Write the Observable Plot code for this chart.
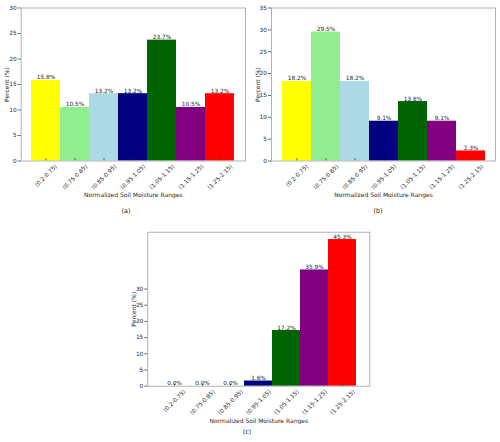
<!DOCTYPE html>
<html>
<head>
<meta charset="utf-8">
<script src="https://cdn.jsdelivr.net/npm/d3@7"></script>
<script src="https://cdn.jsdelivr.net/npm/@observablehq/plot@0.6"></script>
<style>
  html, body { margin: 0; padding: 0; background: #fff; }
  #fig { position: relative; width: 500px; height: 442px; background: #fff; font-family: "DejaVu Sans", sans-serif; color: #262626; }
  .panel { position: absolute; opacity: 0.999; }
  .caption { position: absolute; font-size: 6.5px; transform: translate(-50%, -50%); white-space: nowrap; opacity: 0.999; }
</style>
</head>
<body>
<div id="fig"></div>
<script>
// Soil moisture range classes shared by all three panels
const categories = ["(0.2-0.75)", "(0.75-0.85)", "(0.85-0.95)", "(0.95-1.05)", "(1.05-1.15)", "(1.15-1.25)", "(1.25-2.15)"];
const barColors = ["yellow", "lightgreen", "lightblue", "navy", "darkgreen", "purple", "red"];

// Percent of samples falling in each range
const percentA = [15.8, 10.5, 13.2, 13.2, 23.7, 10.5, 13.2];
const percentB = [18.2, 29.5, 18.2, 9.1, 13.6, 9.1, 2.3];
const percentC = [0.0, 0.0, 0.0, 1.6, 17.2, 35.9, 45.3];

// Y-axis tick values and upper limits
const ticksA = [0, 5, 10, 15, 20, 25, 30];
const ticksB = [0, 5, 10, 15, 20, 25, 30, 35];
const ticksC = [0, 5, 10, 15, 20, 25, 30];
const yMaxA = 30;
const yMaxB = 35;
const yMaxC = 45.3 * 1.05;

const xTitle = "Normalized Soil Moisture Ranges";
const yTitle = "Percent (%)";

const tickFont = 5.8;
const titleFont = 6;
const FONT = "DejaVu Sans";
const INK = "#262626";

// measure a string so rotated tick labels can hang from the axis like centered boxes
const ctx = document.createElement("canvas").getContext("2d");
function textWidth(s, size) {
  ctx.font = `${size}px "${FONT}"`;
  return ctx.measureText(s).width;
}

function panel({values, yMax, ticks, width, height, margins, titleDy}) {
  const [mt, mr, mb, ml] = margins;
  const innerH = height - mt - mb;
  const data = categories.map((cat, i) => ({cat, v: values[i]}));
  // each rotated label is centred under its tick, its box top just below the axis
  const tickLabels = categories.map(cat => {
    const w = textWidth(cat, tickFont);
    const half = (w + tickFont) * Math.SQRT1_2 / 2;
    return Plot.text([cat], {
      x: d => d, frameAnchor: "bottom", dy: 2.5 + half,
      rotate: -45, textAnchor: "middle", lineAnchor: "middle",
      fontSize: tickFont, fill: INK
    });
  });
  return Plot.plot({
    width, height,
    marginTop: mt, marginRight: mr, marginBottom: mb, marginLeft: ml,
    style: {fontFamily: FONT, background: "transparent", color: INK},
    x: {domain: categories, paddingInner: 0, paddingOuter: 0.35, axis: null},
    y: {domain: [0, yMax], axis: null},
    color: {domain: categories, range: barColors},
    marks: [
      Plot.barY(data, {x: "cat", y: "v", fill: "cat", inset: 0}),
      Plot.tickX(data, {x: "cat", stroke: "#333", strokeWidth: 0.8, insetTop: innerH - 2.2}),
      Plot.frame({stroke: "#a0a0a0", strokeWidth: 0.8}),
      Plot.axisY({ticks, tickSize: 3, tickPadding: 1.5, label: null, stroke: "#666", fontSize: tickFont, fill: INK}),
      Plot.text(data, {x: "cat", y: "v", text: d => d.v.toFixed(1) + "%", dy: -1, lineAnchor: "bottom", fontSize: tickFont, fill: INK}),
      ...tickLabels,
      Plot.text([xTitle], {frameAnchor: "bottom", dy: titleDy, lineAnchor: "middle", fontSize: titleFont, fill: INK}),
      Plot.text([yTitle], {frameAnchor: "left", dx: -13.7, rotate: -90, textAnchor: "middle", lineAnchor: "middle", fontSize: titleFont, fill: INK})
    ]
  });
}

const fig = document.getElementById("fig");
function place(node, left, top) {
  const wrap = document.createElement("div");
  wrap.className = "panel";
  wrap.style.left = left + "px";
  wrap.style.top = top + "px";
  wrap.appendChild(node);
  fig.appendChild(wrap);
}
function caption(text, x, y) {
  const c = document.createElement("div");
  c.className = "caption";
  c.style.left = x + "px";
  c.style.top = y + "px";
  c.textContent = text;
  fig.appendChild(c);
}

place(panel({values: percentA, yMax: yMaxA, ticks: ticksA, width: 250, height: 200, margins: [7.5, 5, 39.5, 20.7], titleDy: 34.5}), 0, 0);
place(panel({values: percentB, yMax: yMaxB, ticks: ticksB, width: 250, height: 200, margins: [7.5, 5, 39.5, 21], titleDy: 34.5}), 250, 0);
place(panel({values: percentC, yMax: yMaxC, ticks: ticksC, width: 250, height: 200, margins: [7.7, 5.7, 38.3, 22.3], titleDy: 35}), 125, 224);

caption("(a)", 126, 211);
caption("(b)", 378, 211);
caption("(c)", 247, 432);
</script>
</body>
</html>
